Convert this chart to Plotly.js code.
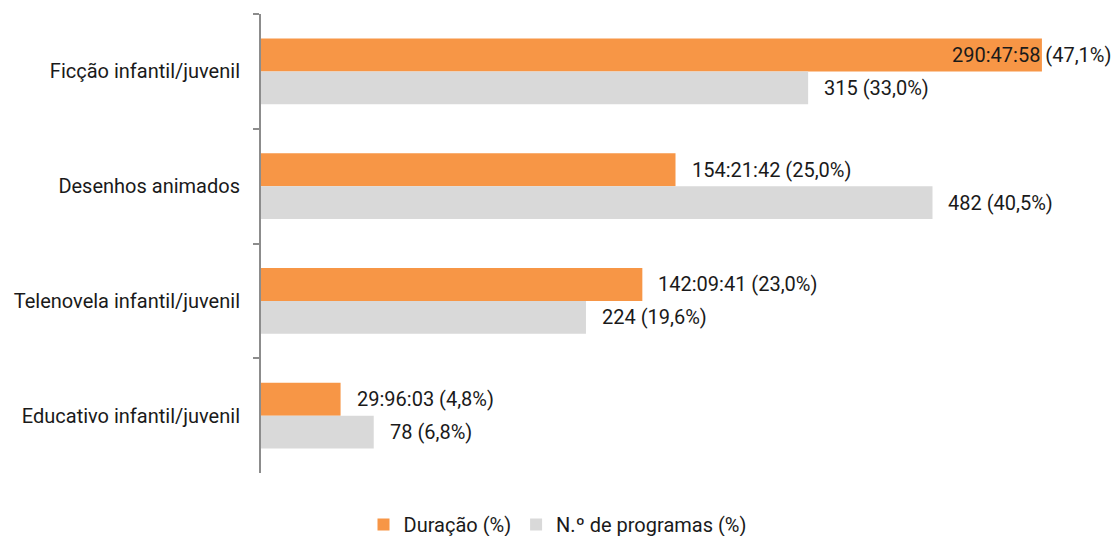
<!DOCTYPE html>
<html>
<head>
<meta charset="utf-8">
<script src="https://cdn.plot.ly/plotly-3.0.1.min.js"></script>
<style>html,body{margin:0;padding:0;background:#fff;}#chart{width:1115px;height:536px;}</style>
</head>
<body>
<div id="chart"></div>
<script>
const categories = ['Ficção infantil/juvenil', 'Desenhos animados', 'Telenovela infantil/juvenil', 'Educativo infantil/juvenil'];
const durationPct = [47.1, 25.0, 23.0, 4.8];
const durationText = ['290:47:58', '154:21:42', '142:09:41', '29:96:03'];
const programCount = [315, 482, 224, 78];
const programPct = [33.0, 40.5, 19.6, 6.8];
const seriesNames = ['Duração (%)', 'N.º de programas (%)'];

const FONT = 'Roboto, "DejaVu Sans Condensed", sans-serif';
const FS = 20;
const fmt = v => v.toFixed(1).replace('.', ',') + '%';

const traces = [
  {type: 'bar', orientation: 'h', name: seriesNames[0], y: categories, x: durationPct,
   marker: {color: '#F79646'}, hoverinfo: 'x+y'},
  {type: 'bar', orientation: 'h', name: seriesNames[1], y: categories, x: programPct,
   marker: {color: '#D9D9D9'}, hoverinfo: 'x+y'}
];

const annotations = [];
categories.forEach((c, i) => {
  const last = durationPct[i] === Math.max(...durationPct);
  annotations.push({
    x: durationPct[i], y: c, xref: 'x', yref: 'y', yshift: 16.5,
    text: durationText[i] + ' (' + fmt(durationPct[i]) + ')',
    showarrow: false, xanchor: last ? 'right' : 'left', xshift: last ? 71 : 14,
    font: {family: FONT, size: FS, color: '#1a1a1a'}
  });
  annotations.push({
    x: programPct[i], y: c, xref: 'x', yref: 'y', yshift: -16.5,
    text: programCount[i] + ' (' + fmt(programPct[i]) + ')',
    showarrow: false, xanchor: 'left', xshift: 14,
    font: {family: FONT, size: FS, color: '#1a1a1a'}
  });
});

const layout = {
  width: 1115, height: 536,
  margin: {l: 261, r: 25, t: 14, b: 63, autoexpand: false},
  paper_bgcolor: '#fff', plot_bgcolor: '#fff',
  barmode: 'group', bargap: 0.426, bargroupgap: 0,
  font: {family: FONT, size: FS, color: '#1a1a1a'},
  xaxis: {range: [0, 50], visible: false, fixedrange: true},
  yaxis: {autorange: 'reversed', showline: true, linecolor: '#8c8c8c', linewidth: 2,
          ticks: 'outside', tickson: 'boundaries', ticklen: 6, tickcolor: '#8c8c8c', tickwidth: 2,
          showgrid: false, zeroline: false, ticklabelstandoff: 15,
          tickfont: {family: FONT, size: FS, color: '#1a1a1a'}},
  showlegend: true,
  legend: {orientation: 'h', xref: 'container', x: 0.5, xanchor: 'center',
           yref: 'container', y: 0.058, yanchor: 'top',
           font: {family: FONT, size: FS, color: '#1a1a1a'}, itemwidth: 30, traceorder: 'normal'},
  annotations: annotations
};

Plotly.newPlot('chart', traces, layout, {displayModeBar: false, staticPlot: true});
</script>
</body>
</html>
